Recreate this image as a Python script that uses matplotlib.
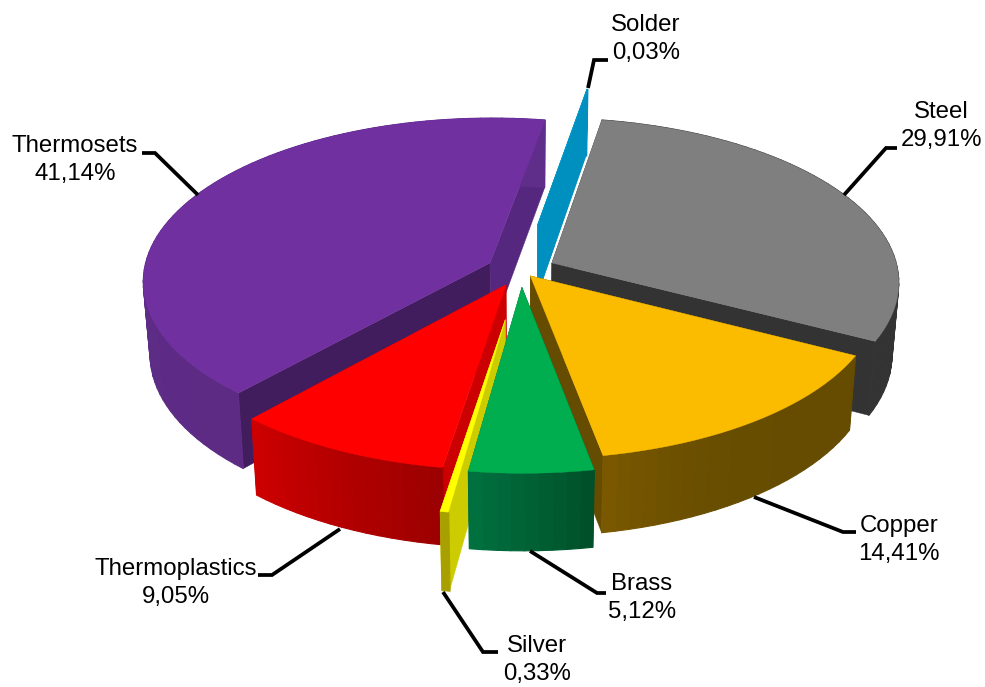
import numpy as np
import matplotlib
matplotlib.use("Agg")
import matplotlib.pyplot as plt
from matplotlib.collections import PolyCollection
from matplotlib.colors import to_rgb

plt.rcParams["font.family"] = ["Liberation Sans", "DejaVu Sans"]

# clockwise order, first slice starts at START_ANGLE
materials = ["Steel", "Copper", "Brass", "Silver", "Thermoplastics", "Thermosets", "Solder"]
shares = [29.91, 14.41, 5.12, 0.33, 9.05, 41.14, 0.03]
explode = [0.10, 0.045, 0.105, 0.30, 0.10, 0.10, 0.29]

top_colors = ["#7f7f7f", "#fbbc00", "#00ae4f", "#ffff00", "#ff0000", "#7030a0", "#0097cc"]
wall_a0 = ["#333333", "#654c00", "#00512a", "#a8a000", "#9c0000", "#5d2b84", "#0090c0"]
wall_a1 = ["#333333", "#7a5800", "#00703f", "#a8a000", "#cc0000", "#5f2e8b", "#0090c0"]
wall_gamma = [1, 4, 1, 1, 1, 1, 1]
face_a0 = ["#333333", "#654c00", "#00512a", "#cccc00", "#cc0000", "#421d5e", "#0090c0"]
face_a1 = ["#333333", "#654c00", "#00703f", "#cccc00", "#cc0000", "#56277f", "#0090c0"]

# painter's order, back to front
draw_order = ["Steel", "Thermosets", "Solder", "Copper", "Thermoplastics", "Silver", "Brass"]

# leader line vertices and label centres, in pixels
leaders = {
    "Solder": [(588, 88), (594, 60), (608, 60)],
    "Steel": [(844, 195), (886, 148), (897, 148)],
    "Copper": [(754, 497), (843, 532), (856, 532)],
    "Brass": [(530, 551), (597, 593), (606, 593)],
    "Silver": [(443, 592), (483, 652), (498, 652)],
    "Thermoplastics": [(340, 529), (272, 575), (258, 575)],
    "Thermosets": [(198, 195), (155, 153), (142, 153)],
}
label_pos = {
    "Solder": (646, 39),
    "Steel": (941, 126),
    "Copper": (899, 540),
    "Brass": (642, 598),
    "Silver": (537, 660),
    "Thermoplastics": (176, 583),
    "Thermosets": (75, 160),
}

START_ANGLE = 10.0
CX, CY = 521.0, 270.0
RX, RY = 346.0, 162.0
DEPTH = 72.0


def project(x, y, z):
    # z = 1 on the top face, 0 on the bottom face
    s = 1 / (1 + 0.11 * y)
    px = x * RX * s - y
    px = px * (1 - 0.018 * (1 - z))
    py = -RY * y / (1 + 0.108 * y) + DEPTH / (1 + 0.065 * y) * (1 - z)
    return CX + px, CY + py


def mix(c0, c1, t):
    c0, c1 = np.array(to_rgb(c0)), np.array(to_rgb(c1))
    return tuple(c0 + (c1 - c0) * t)


def draw_slice(ax, a0, a1, off, top, w0, w1, gamma, f0, f1):
    mid = np.radians((a0 + a1) / 2)
    ox, oy = off * np.sin(mid), off * np.cos(mid)
    t = np.radians(np.linspace(a0, a1, max(int((a1 - a0) / 2), 1) + 1))
    xs, ys = ox + np.sin(t), oy + np.cos(t)

    def face(x, y):
        return [project(ox, oy, 1), project(x, y, 1), project(x, y, 0), project(ox, oy, 0)]

    ax.fill(*zip(*face(xs[0], ys[0])), color=f0, lw=0.3)
    ax.fill(*zip(*face(xs[-1], ys[-1])), color=f1, lw=0.3)

    quads, cols = [], []
    for i in range(len(t) - 1):
        quads.append([project(xs[i], ys[i], 1), project(xs[i + 1], ys[i + 1], 1),
                      project(xs[i + 1], ys[i + 1], 0), project(xs[i], ys[i], 0)])
        cols.append(mix(w0, w1, (i / max(len(t) - 2, 1)) ** gamma))
    ax.add_collection(PolyCollection(quads, facecolors=cols, edgecolors=cols, linewidths=0.8))

    outline = [project(ox, oy, 1)] + [project(a, b, 1) for a, b in zip(xs, ys)]
    ax.fill(*zip(*outline), color=top, lw=0.3)


fig = plt.figure(figsize=(9.85, 6.87), dpi=100)
ax = fig.add_axes([0, 0, 1, 1])
ax.set_xlim(0, 985)
ax.set_ylim(687, 0)
ax.axis("off")

edges = START_ANGLE + np.concatenate([[0], np.cumsum(shares)]) * 3.6

for name in draw_order:
    i = materials.index(name)
    draw_slice(ax, edges[i], edges[i + 1], explode[i], top_colors[i],
               wall_a0[i], wall_a1[i], wall_gamma[i], face_a0[i], face_a1[i])

for name, share in zip(materials, shares):
    pts = leaders[name]
    ax.plot(*zip(*pts), color="black", lw=2.7, solid_joinstyle="miter", solid_capstyle="butt")
    lx, ly = label_pos[name]
    ax.text(lx, ly, f"{name}\n{share:.2f}%".replace(".", ","), ha="center", va="center",
            fontsize=17.3, linespacing=1.35, color="black")

fig.savefig("out.png", dpi=100)
